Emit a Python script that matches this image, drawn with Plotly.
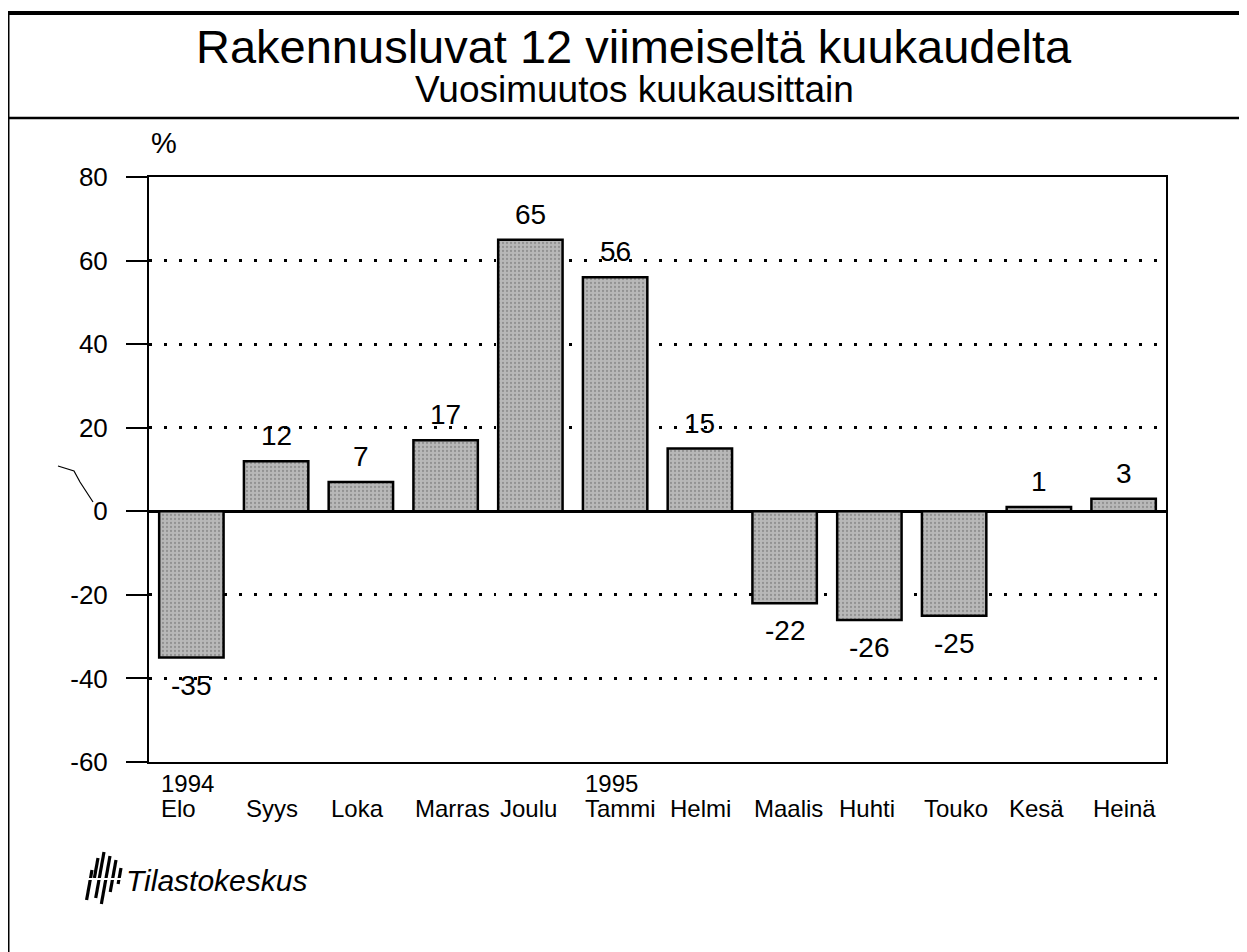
import plotly.graph_objects as go

months = ["Elo", "Syys", "Loka", "Marras", "Joulu", "Tammi", "Helmi",
          "Maalis", "Huhti", "Touko", "Kesä", "Heinä"]
years = ["1994", "", "", "", "", "1995", "", "", "", "", "", ""]
values = [-35, 12, 7, 17, 65, 56, 15, -22, -26, -25, 1, 3]
y_ticks = [-60, -40, -20, 0, 20, 40, 60, 80]
y_ticktext = ["-60", "-40", "-20", "0", "20", "40", "60", "80"]

W, H = 1247, 952
OFF = 8  # default page margin of the browser body
X0, X1, Y0, Y1 = 149, 1166, 177, 762  # plot area in page pixels


def px(x):
    return (x - X0) / (X1 - X0)


def py(y):
    return (Y1 - y) / (Y1 - Y0)


FONT = "Liberation Sans, Arial, sans-serif"

fig = go.Figure()
fig.add_trace(go.Bar(
    x=months, y=values, width=0.76,
    marker=dict(color="#ababab", line=dict(color="black", width=2.5),
                pattern=dict(shape=".", fgcolor="#6a6a6a", bgcolor="#b8b8b8",
                             size=4, solidity=0.25)),
    hoverinfo="skip",
))

annotations = []
for m, v in zip(months, values):
    annotations.append(dict(
        x=m, y=v, xref="x", yref="y", text=str(v), showarrow=False,
        yanchor="bottom" if v >= 0 else "top",
        yshift=8 if v >= 0 else -10,
        font=dict(family=FONT, size=28, color="black")))

for i, (yr, m) in enumerate(zip(years, months)):
    annotations.append(dict(
        x=i - 0.38, y=py(808), xref="x", yref="paper", text=m,
        showarrow=False, xanchor="left", yanchor="middle",
        font=dict(family=FONT, size=24, color="black")))
    if yr:
        annotations.append(dict(
            x=i - 0.38, y=py(783), xref="x", yref="paper", text=yr,
            showarrow=False, xanchor="left", yanchor="middle",
            font=dict(family=FONT, size=24, color="black")))

annotations += [
    dict(x=px(634), y=py(47), xref="paper", yref="paper",
         text="Rakennusluvat 12 viimeiseltä kuukaudelta", showarrow=False,
         xanchor="center", yanchor="middle",
         font=dict(family=FONT, size=47, color="black")),
    dict(x=px(634), y=py(89), xref="paper", yref="paper",
         text="Vuosimuutos kuukausittain", showarrow=False,
         xanchor="center", yanchor="middle",
         font=dict(family=FONT, size=37, color="black")),
    dict(x=px(149), y=py(143), xref="paper", yref="paper", text="%",
         showarrow=False, xanchor="left", yanchor="middle",
         font=dict(family=FONT, size=29, color="black")),
    dict(x=px(124), y=py(880), xref="paper", yref="paper",
         text="<i>Tilastokeskus</i>", showarrow=False,
         xanchor="left", yanchor="middle",
         font=dict(family=FONT, size=30, color="black")),
]

shapes = [
    # outer frame
    dict(type="line", xref="paper", yref="paper", x0=px(5), x1=px(1247),
         y0=py(13), y1=py(13), line=dict(color="black", width=4)),
    dict(type="line", xref="paper", yref="paper", x0=px(8), x1=px(8),
         y0=py(12), y1=py(952), line=dict(color="black", width=3)),
    dict(type="line", xref="paper", yref="paper", x0=px(5), x1=px(1247),
         y0=py(118), y1=py(118), line=dict(color="black", width=2.5)),
    # scan mark
    dict(type="path", xref="paper", yref="paper",
         path=f"M {px(58)} {py(466)} L {px(74)} {py(471)} L {px(80)} {py(482)} L {px(93)} {py(502)}",
         line=dict(color="black", width=1.2)),
]
# logo glyph: slanted bars
for x_top, y_top, y_bot in [(98, 858, 878), (104, 852, 898), (110, 856, 904),
                            (116, 860, 892), (92, 870, 900), (121, 868, 884)]:
    shapes.append(dict(type="line", xref="paper", yref="paper",
                       x0=px(x_top), y0=py(y_top), x1=px(x_top - (y_bot - y_top) * 0.18),
                       y1=py(y_bot), line=dict(color="black", width=3.2)))
shapes.append(dict(type="line", xref="paper", yref="paper", x0=px(86), x1=px(126),
                   y0=py(879), y1=py(879), line=dict(color="white", width=2)))

fig.update_layout(
    width=W - OFF, height=H - OFF,
    margin=dict(l=X0 - OFF, r=W - X1, t=Y0 - OFF, b=H - Y1, pad=0),
    paper_bgcolor="white", plot_bgcolor="white",
    showlegend=False,
    annotations=annotations, shapes=shapes,
    xaxis=dict(type="category", range=[-0.5, 11.5], showticklabels=False,
               ticks="", showgrid=False, showline=True, linecolor="black",
               linewidth=2, mirror=True, zeroline=False, fixedrange=True),
    yaxis=dict(range=[-60, 80], tickvals=y_ticks, ticktext=y_ticktext,
               ticks="outside", ticklen=21,
               tickwidth=2, tickcolor="black", showline=True, linecolor="black",
               linewidth=2, mirror=True, showgrid=True, gridcolor="black",
               gridwidth=2.5, griddash="2.5px,12.5px", zeroline=True,
               zerolinecolor="black", zerolinewidth=2.5,
               tickfont=dict(family=FONT, size=26, color="black"),
               ticklabelstandoff=13, fixedrange=True),
)

fig.write_html("out.html")
